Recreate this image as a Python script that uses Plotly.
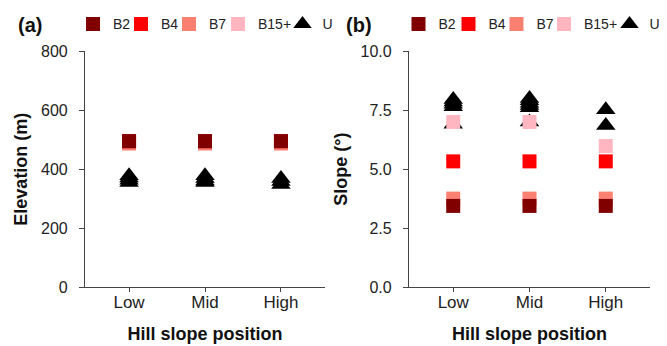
import plotly.graph_objects as go

positions = ["Low", "Mid", "High"]
series = ["B2", "B4", "B7", "B15+"]
colors = {"B2": "#800000", "B4": "#FF0000", "B7": "#FA8072", "B15+": "#FFB6C1", "U": "#000000"}

# Panel (a) Elevation (m)
elev = {
    "B2": [495, 495, 495],
    "B4": [495, 495, 495],
    "B7": [487, 487, 487],
    "B15+": [491, 491, 491],
}
elev_u_x = ["Low"] * 4 + ["Mid"] * 4 + ["High"] * 3
elev_u = [378, 370, 362, 355, 378, 368, 360, 355, 368, 358, 348]

# Panel (b) Slope (degrees)
slope = {
    "B2": [3.44, 3.44, 3.44],
    "B4": [5.33, 5.33, 5.33],
    "B7": [3.75, 3.75, 3.75],
    "B15+": [7.0, 7.0, 5.98],
}
slope_u_x = ["Low"] * 5 + ["Mid"] * 6 + ["High"] * 2
slope_u = [7.95, 7.85, 7.75, 7.65, 6.9, 8.0, 7.9, 7.8, 7.7, 7.6, 7.0, 7.52, 6.85]

yticks_a = [0, 200, 400, 600, 800]
yticks_b = [0.0, 2.5, 5.0, 7.5, 10.0]

FONT = "Liberation Sans, Arial, sans-serif"
OFF = 8  # page body margin offset of the html page
W, H = 667 - OFF, 346 - OFF
MB = 59
PAPER_H = H - MB


def px(x):
    return (x - OFF) / W


def py(y):
    return (PAPER_H - (y - OFF)) / PAPER_H


# legend symbol centres (pixels) for each panel
legend_pos = {
    "a": {"B2": 94.5, "B4": 142.5, "B7": 190.5, "B15+": 239.5, "U": 304},
    "b": {"B2": 420, "B4": 470, "B7": 518, "B15+": 565.5, "U": 631},
}
names = ["B2", "B4", "B7", "B15+", "U"]
legend_ids = {}
n = 0
for key in ["a", "b"]:
    for s in names:
        n += 1
        legend_ids[(key, s)] = "legend" if n == 1 else f"legend{n}"

fig = go.Figure()

draw_order = ["B15+", "B7", "B4", "B2"]

for key, data, ux, uy, xa, ya in [
        ("a", elev, elev_u_x, elev_u, "x", "y"),
        ("b", slope, slope_u_x, slope_u, "x2", "y2")]:
    fig.add_trace(go.Scatter(
        x=ux, y=uy, mode="markers", name="U", xaxis=xa, yaxis=ya, legend=legend_ids[(key, "U")],
        marker=dict(symbol="triangle-up", size=17, color=colors["U"], line=dict(width=0)),
        cliponaxis=False))
    for s in draw_order:
        fig.add_trace(go.Scatter(
            x=positions, y=data[s], mode="markers", name=s, xaxis=xa, yaxis=ya,
            legend=legend_ids[(key, s)],
            marker=dict(symbol="square", size=14, color=colors[s], line=dict(width=0)),
            cliponaxis=False))

axis_common = dict(
    showline=True, linecolor="#444444", linewidth=1.2, ticks="outside",
    tickcolor="#444444", ticklen=5, showgrid=False, zeroline=False, automargin=False,
    tickfont=dict(family=FONT, size=16, color="#222222"),
)
xcommon = dict(axis_common, type="category", categoryorder="array", categoryarray=positions,
               range=[-0.58, 2.58], ticklen=4, ticklabelstandoff=-5,
               tickfont=dict(family=FONT, size=17, color="#222222"),
               title=dict(text="<b>Hill slope position</b>", font=dict(family=FONT, size=18, color="#111111"), standoff=16))
ycommon = dict(axis_common, ticklabelstandoff=8, domain=[0, 240 / PAPER_H])

legfont = dict(family=FONT, size=14, color="#222222")

legends = {}
for (key, s), lid in legend_ids.items():
    legends[lid] = dict(orientation="h", x=px(legend_pos[key][s] - 21.5), y=py(19.5),
                        xref="paper", yref="paper", xanchor="left", yanchor="middle",
                        font=legfont, bgcolor="rgba(0,0,0,0)")

fig.update_layout(
    width=W, height=H,
    margin=dict(l=0, r=0, t=0, b=MB, pad=0),
    paper_bgcolor="white", plot_bgcolor="white",
    font=dict(family=FONT, color="#222222"),
    xaxis=dict(xcommon, domain=[px(85), px(325)], anchor="y"),
    xaxis2=dict(xcommon, domain=[px(409), px(650)], anchor="y2"),
    yaxis=dict(ycommon, range=[0, 800], tickvals=yticks_a, anchor="x",
               title=dict(text="<b>Elevation (m)</b>", font=dict(family=FONT, size=18, color="#111111"), standoff=8)),
    yaxis2=dict(ycommon, range=[0, 10], tickvals=yticks_b, tickformat=".1f", anchor="x2",
                title=dict(text="<b>Slope (°)</b>", font=dict(family=FONT, size=18, color="#111111"), standoff=8)),
    showlegend=True,
    annotations=[
        dict(text="<b>(a)</b>", x=px(16), y=py(20), xref="paper", yref="paper", showarrow=False,
             xanchor="left", yanchor="middle", font=dict(family=FONT, size=20, color="#111111")),
        dict(text="<b>(b)</b>", x=px(344), y=py(20), xref="paper", yref="paper", showarrow=False,
             xanchor="left", yanchor="middle", font=dict(family=FONT, size=20, color="#111111")),
    ],
    **legends,
)

fig.write_html("out.html")
